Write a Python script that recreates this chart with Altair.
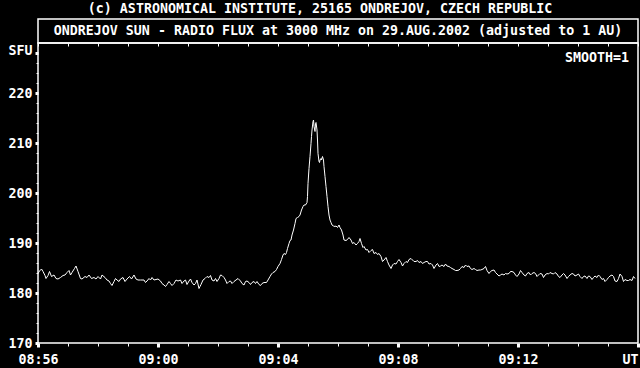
import altair as alt
import pandas as pd

# seconds after 08:56:00 UT
t_sec = [0, 3, 7, 10, 14, 16, 20, 23, 27, 32, 36, 40, 45, 50, 54, 58, 62, 65, 68, 73, 76, 80, 85, 88, 94, 98, 102, 107, 112, 116, 120, 125, 128, 134, 138, 142, 145, 148, 152, 155, 158, 162, 165, 170, 174, 178, 183, 187, 192, 196, 200, 205, 212,
         215, 218, 222, 225, 228, 232, 236, 240, 245, 248, 252, 255, 258, 262, 265, 268, 272, 276, 280, 285, 288, 292, 295, 298, 302, 305, 308, 312, 315, 318, 322, 324, 326, 330, 334, 338, 342, 345, 348, 352, 355, 358, 362, 365, 368, 372, 375, 378, 382, 385, 388, 392, 396, 400, 405, 408, 412, 415, 418, 422, 425, 428, 432, 435, 438, 442, 445, 448, 452,
         457, 460, 464, 467, 470, 474, 477, 480, 484, 487, 490, 492, 495, 497, 499, 502, 504, 506, 508, 511, 514, 516, 519, 522, 524, 527, 530, 532, 535, 538, 539, 540, 542, 544, 546, 547, 548, 550, 551, 552, 554, 555, 556, 558, 559, 560, 562, 563, 564, 566, 567, 569, 571, 572, 574, 576, 578, 580, 582, 584, 586, 588, 591, 594, 596, 599, 602, 604, 607,
         610, 612, 616, 619, 622, 626, 629, 632, 636, 639, 642, 644, 647, 650, 652, 656, 659, 662, 666, 669, 672, 676, 679, 682, 686, 689, 692, 696, 699, 702, 706, 709, 712, 716, 719, 722, 726, 729, 732, 736, 739, 742, 746, 749, 752, 756, 759, 762, 766, 769, 772, 776, 779, 782, 786, 789, 792, 796, 799,
         802, 805, 808, 812, 815, 818, 822, 825, 828, 832, 835, 838, 842, 845, 848, 852, 855, 858, 862, 865, 868, 872, 875, 878, 882, 885, 888, 892, 895, 898, 902, 905, 908, 912, 915, 918, 922, 925, 928, 932, 935, 938, 942, 945, 948, 952, 955, 958, 962, 965, 968, 972, 975, 978, 982, 985, 988, 992, 995,
         998, 1001, 1004, 1008, 1011, 1014, 1018, 1021, 1024, 1028, 1031, 1034, 1038, 1041, 1044, 1048, 1051, 1054, 1058, 1061, 1064, 1068, 1071, 1074, 1078, 1081, 1084, 1088, 1091, 1094, 1098, 1101, 1104, 1108, 1111, 1114, 1118, 1121, 1124, 1128, 1131, 1134, 1138, 1141, 1144, 1148, 1151, 1154, 1158, 1161, 1164, 1168, 1171, 1174, 1178, 1181, 1184, 1188, 1191, 1194]

sfu = [183.9, 184.4, 184.8, 184.3, 183.5, 182.9, 183.5, 184.3, 183.3, 183.6, 182.9, 182.8, 183.1, 183.5, 183.6, 184.1, 184.5, 183.6, 184.1, 184.9, 185.4, 184.3, 182.9, 182.8, 183.3, 183.1, 183.6, 182.9, 183.1, 182.8, 183.3, 182.8, 183.6, 183.1, 182.6, 182.4, 181.9, 181.5, 182.3, 182.9, 182.6, 182.3, 182.8, 183.1, 182.3, 182.8, 183.3, 182.8, 183.6, 182.8, 182.6, 182.6, 182.6,
       182.1, 182.4, 182.9, 182.6, 183.1, 182.6, 182.7, 182.8, 182.4, 181.9, 181.6, 181.3, 181.7, 182.3, 181.9, 181.5, 181.9, 182.6, 182.4, 182.6, 181.9, 182.4, 182.6, 181.7, 182.4, 182.8, 182.1, 181.6, 181.9, 182.6, 180.9, 181.3, 181.7, 182.6, 182.9, 183.3, 183.1, 183.5, 182.6, 182.4, 182.9, 182.3, 182.9, 183.6, 183.5, 183.1, 182.6, 181.9, 182.3, 182.4, 181.9, 182.3, 182.6, 182.9, 182.4, 181.9, 181.6, 182.3, 182.4, 182.1, 181.7, 182.1, 182.3, 181.9, 182.3, 181.7, 181.5, 181.9, 182.1,
       182.1, 182.6, 183.3, 183.8, 184.1, 184.3, 184.7, 185.3, 185.9, 186.7, 187.6, 187.9, 187.7, 188.1, 188.9, 189.9, 190.5, 190.6, 191.6, 192.6, 193.9, 194.9, 195.1, 195.3, 195.6, 196.6, 197.3, 197.6, 197.6, 198.1, 199.3, 201.9, 204.9, 207.3, 209.9, 211.3, 212.6, 214.3, 214.6, 213.3, 212.3, 213.9, 214.1, 212.6, 210.6, 207.9, 206.3, 206.1, 206.6, 206.9, 206.6, 207.3, 206.6, 205.3, 203.3, 201.3, 199.3, 197.3, 195.6, 194.6, 194.1, 193.6, 193.4, 193.3, 193.4, 193.1, 193.6, 193.1, 192.6,
       191.6, 190.6, 190.5, 190.7, 191.1, 190.6, 189.9, 190.1, 189.6, 189.9, 190.3, 190.9, 189.9, 189.1, 189.3, 188.6, 188.7, 188.1, 188.5, 188.7, 187.9, 188.1, 187.7, 187.9, 187.3, 186.3, 186.6, 187.1, 186.3, 185.6, 184.9, 185.6, 185.9, 185.8, 186.3, 186.7, 186.1, 185.4, 185.9, 186.3, 186.1, 186.7, 186.9, 186.6, 186.3, 186.3, 186.5, 186.1, 186.3, 185.9, 186.1, 186.3, 186.3, 185.8, 185.9, 185.6, 184.9, 185.6, 185.9,
       185.3, 185.4, 185.6, 185.3, 185.8, 185.4, 185.3, 185.1, 184.9, 184.7, 184.5, 184.5, 184.6, 184.9, 185.3, 185.1, 185.6, 185.3, 185.4, 184.9, 184.7, 184.9, 184.7, 184.5, 184.6, 184.6, 184.7, 184.9, 185.3, 184.5, 183.9, 184.3, 184.5, 184.6, 184.1, 183.8, 183.4, 183.6, 183.8, 183.6, 183.9, 183.8, 183.9, 184.3, 184.3, 184.1, 183.6, 183.3, 183.8, 184.5, 184.1, 183.6, 183.4, 183.9, 184.1, 183.6, 183.9, 184.1, 183.9,
       183.3, 183.6, 183.9, 183.8, 183.1, 183.6, 183.9, 183.8, 184.1, 183.9, 183.8, 184.1, 183.8, 183.3, 183.1, 183.6, 183.9, 183.6, 182.9, 183.3, 183.6, 183.9, 183.8, 183.4, 183.6, 183.8, 183.3, 182.9, 183.3, 183.4, 182.9, 183.4, 183.3, 182.7, 183.1, 183.4, 183.1, 183.6, 183.3, 182.7, 182.9, 182.3, 182.7, 183.1, 183.4, 183.6, 183.3, 182.4, 182.3, 182.9, 183.8, 183.3, 182.3, 182.7, 182.5, 182.5, 182.7, 182.5, 183.3, 182.9]

x_tick_labels = ["08:56", "09:00", "09:04", "09:08", "09:12", "UT"]
copyright_text = "(c) ASTRONOMICAL INSTITUTE, 25165 ONDREJOV, CZECH REPUBLIC"
title_text = "ONDREJOV SUN - RADIO FLUX at 3000 MHz on 29.AUG.2002 (adjusted to 1 AU)"
smooth_text = "SMOOTH=1"

df = pd.DataFrame({"minute": [t / 60.0 for t in t_sec], "sfu": sfu})

FONT = "DejaVu Sans Mono"
FS = 13.3

x_scale = alt.Scale(domain=[0, 20], nice=False, zero=False)
y_scale = alt.Scale(domain=[170, 230], nice=False, zero=False)

label_arr = "[" + ",".join("'" + s + "'" for s in x_tick_labels) + "]"

x_axis_bottom = alt.Axis(
    orient="bottom",
    values=list(range(0, 21)),
    labelExpr=f"datum.value % 4 == 0 ? {label_arr}[datum.value / 4] : ''",
    tickSize={"condition": {"test": "datum.value % 4 == 0", "value": 4}, "value": 3},
    tickWidth={"condition": {"test": "datum.value % 4 == 0", "value": 3}, "value": 1},
    labelAlign={"condition": {"test": "datum.value == 20", "value": "right"}, "value": "center"},
    labelPadding=5,
    labelFlush=False,
    labelOverlap=False,
    domain=False,
    grid=False,
    title="",
)

x_axis_top = alt.Axis(
    orient="top",
    values=list(range(0, 21)),
    labels=False,
    tickSize=3,
    tickWidth=1,
    offset=-3,
    domain=False,
    grid=False,
    title="",
)

y_axis = alt.Axis(
    values=list(range(170, 230, 2)),
    labelExpr="datum.value == 228 ? 'SFU' : (datum.value % 10 == 0 ? datum.label : '')",
    tickSize={"condition": {"test": "datum.value % 10 == 0 || datum.value == 228", "value": 3}, "value": 2},
    tickWidth={"condition": {"test": "datum.value % 10 == 0 || datum.value == 228", "value": 3}, "value": 1},
    labelOffset={"condition": {"test": "datum.value == 228", "value": -3}, "value": 0},
    labelPadding=3,
    labelOverlap=False,
    domain=False,
    grid=False,
    title="",
)

line = alt.Chart(df).mark_line(color="white", strokeWidth=1).encode(
    x=alt.X("minute:Q", scale=x_scale, axis=x_axis_bottom),
    y=alt.Y("sfu:Q", scale=y_scale, axis=y_axis),
)

top_ticks = alt.Chart(df).mark_point(opacity=0).encode(
    x=alt.X("minute:Q", scale=x_scale, axis=x_axis_top),
)

one = alt.Data(values=[{"k": 0}])

title_box = alt.Chart(one).mark_rect(filled=False, stroke="white", strokeWidth=1.5).encode(
    x=alt.value(0), x2=alt.value(600), y=alt.value(-24), y2=alt.value(0)
)

t_copy = alt.Chart(one).mark_text(
    text=copyright_text, font=FONT, fontSize=FS, fontWeight="bold", color="white",
    align="center", baseline="middle",
).encode(x=alt.value(282), y=alt.value(-34))

t_title = alt.Chart(one).mark_text(
    text=title_text, font=FONT, fontSize=FS, fontWeight="bold", color="white",
    align="center", baseline="middle",
).encode(x=alt.value(300), y=alt.value(-12))

t_smooth = alt.Chart(one).mark_text(
    text=smooth_text, font=FONT, fontSize=FS, fontWeight="bold", color="white",
    align="right", baseline="middle",
).encode(x=alt.value(591), y=alt.value(15))

chart = (
    alt.layer(line, top_ticks, title_box, t_copy, t_title, t_smooth)
    .resolve_axis(x="independent")
    .properties(
        width=600,
        height=300,
        padding={"left": 38, "top": 43, "right": 2, "bottom": 25},
        autosize=alt.AutoSizeParams(type="none"),
        background="black",
    )
    .configure_view(stroke="white", strokeWidth=1.5)
    .configure_axis(
        labelColor="white",
        tickColor="white",
        labelFont=FONT,
        labelFontSize=FS,
        labelFontWeight="bold",
    )
)

chart.save("out.html", embed_options={"renderer": "svg", "actions": False})
